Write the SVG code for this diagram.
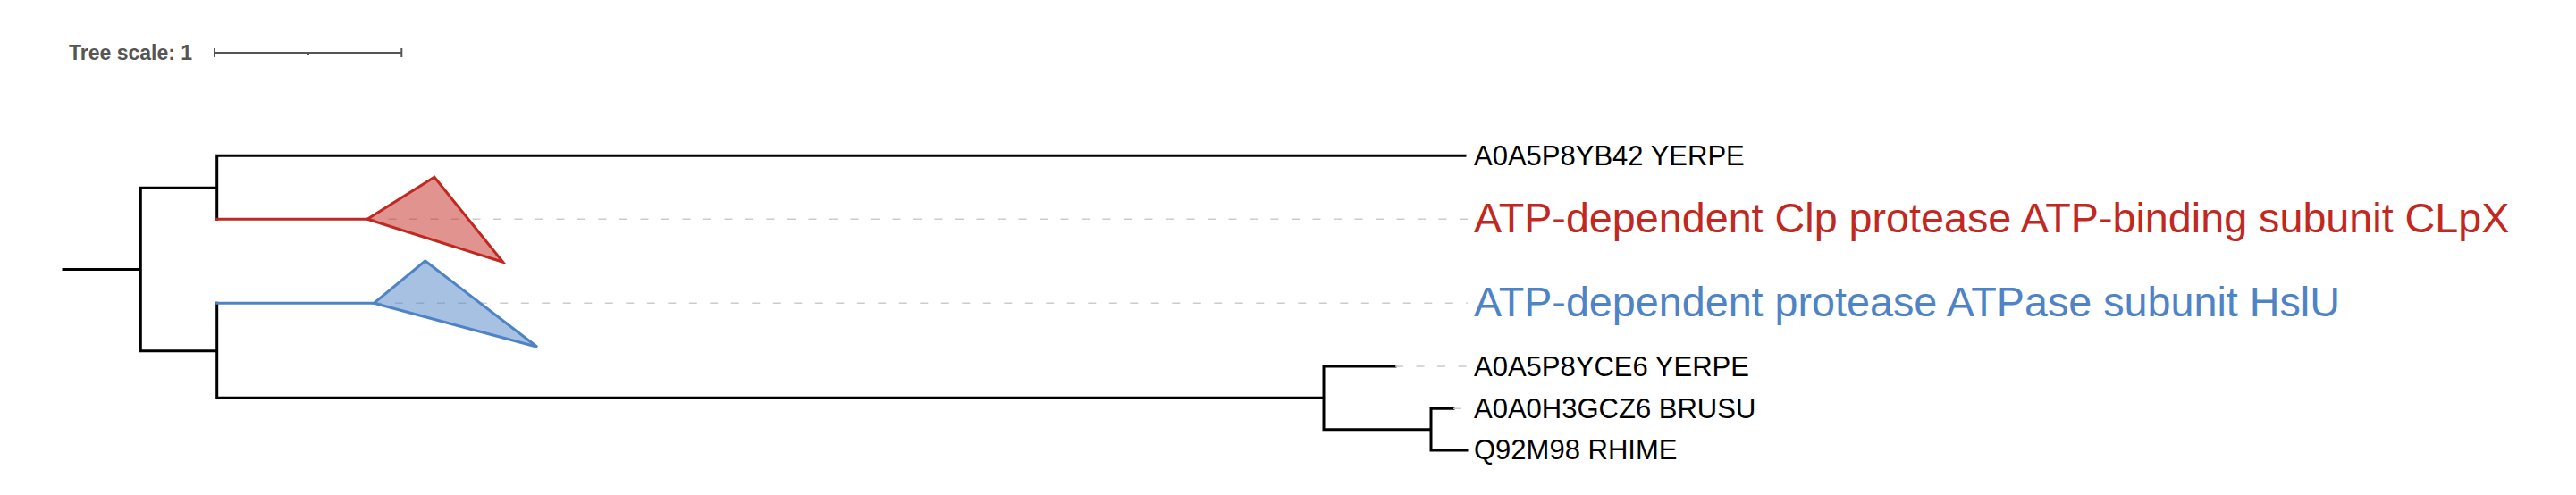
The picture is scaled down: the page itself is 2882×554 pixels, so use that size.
<svg xmlns="http://www.w3.org/2000/svg" width="2882" height="554" viewBox="0 0 2882 554">
<style>
.br{fill:none;stroke:#000;stroke-width:3;stroke-linecap:square}
.red{stroke:#c1281f}
.blue{stroke:#4e84c6}
.dash{fill:none;stroke:#cccccc;stroke-width:1.5;stroke-dasharray:9 14.5}
.lbl{font-family:"Liberation Sans",Arial,sans-serif;font-size:31px;fill:#000}
.big{font-family:"Liberation Sans",Arial,sans-serif;font-size:46.7px}
.scale{fill:none;stroke:#555;stroke-width:2}
</style>
<rect width="2882" height="554" fill="#fff"/>
<g id="scale">
<text x="77" y="66.5" font-family="'Liberation Sans',Arial,sans-serif" font-size="23" font-weight="bold" fill="#555">Tree scale: 1</text>
<path class="scale" d="M240,59H449.3M240,54V64M449.3,54V64M345,59V62"/>
</g>
<g id="connectors">
<path class="br" d="M71,301.5H157.3M157.3,210.3V392.7M157.3,210.3H242.7M242.7,174.3V245.3M242.7,174.3H1639M157.3,392.7H242.7M242.7,339.3V445.3M242.7,445.3H1481M1481,410V480.7M1481,410H1561M1481,480.7H1601M1601,457.3V504M1601,457.3H1626M1601,504H1641"/>
<path class="br red" d="M242.7,245.3H411"/>
<path class="br blue" d="M242.7,339.3H418.3"/>
<path class="dash" d="M411,245.3H1642M418.3,339.3H1642M1561,410H1642M1626,457.3H1642"/>
</g>
<g id="clade-clpx">
<polygon points="411,245.3 486,198.3 562.7,293.3" fill="#c1281f" fill-opacity="0.5" stroke="#c1281f" stroke-width="3"/>
<text class="big" x="1649" y="259.5" fill="#c1281f">ATP-dependent Clp protease ATP-binding subunit CLpX</text>
</g>
<g id="clade-hslu">
<polygon points="418.3,339.3 475.7,292 601,388.3" fill="#4e84c6" fill-opacity="0.5" stroke="#4e84c6" stroke-width="3"/>
<text class="big" x="1649" y="353.5" fill="#4e84c6">ATP-dependent protease ATPase subunit HslU</text>
</g>
<g id="leaf-yb42"><text class="lbl" x="1649" y="184.5">A0A5P8YB42 YERPE</text></g>
<g id="leaf-yce6"><text class="lbl" x="1649" y="420.5">A0A5P8YCE6 YERPE</text></g>
<g id="leaf-gcz6"><text class="lbl" x="1649" y="467.5">A0A0H3GCZ6 BRUSU</text></g>
<g id="leaf-q92m98"><text class="lbl" x="1649" y="514">Q92M98 RHIME</text></g>
</svg>
